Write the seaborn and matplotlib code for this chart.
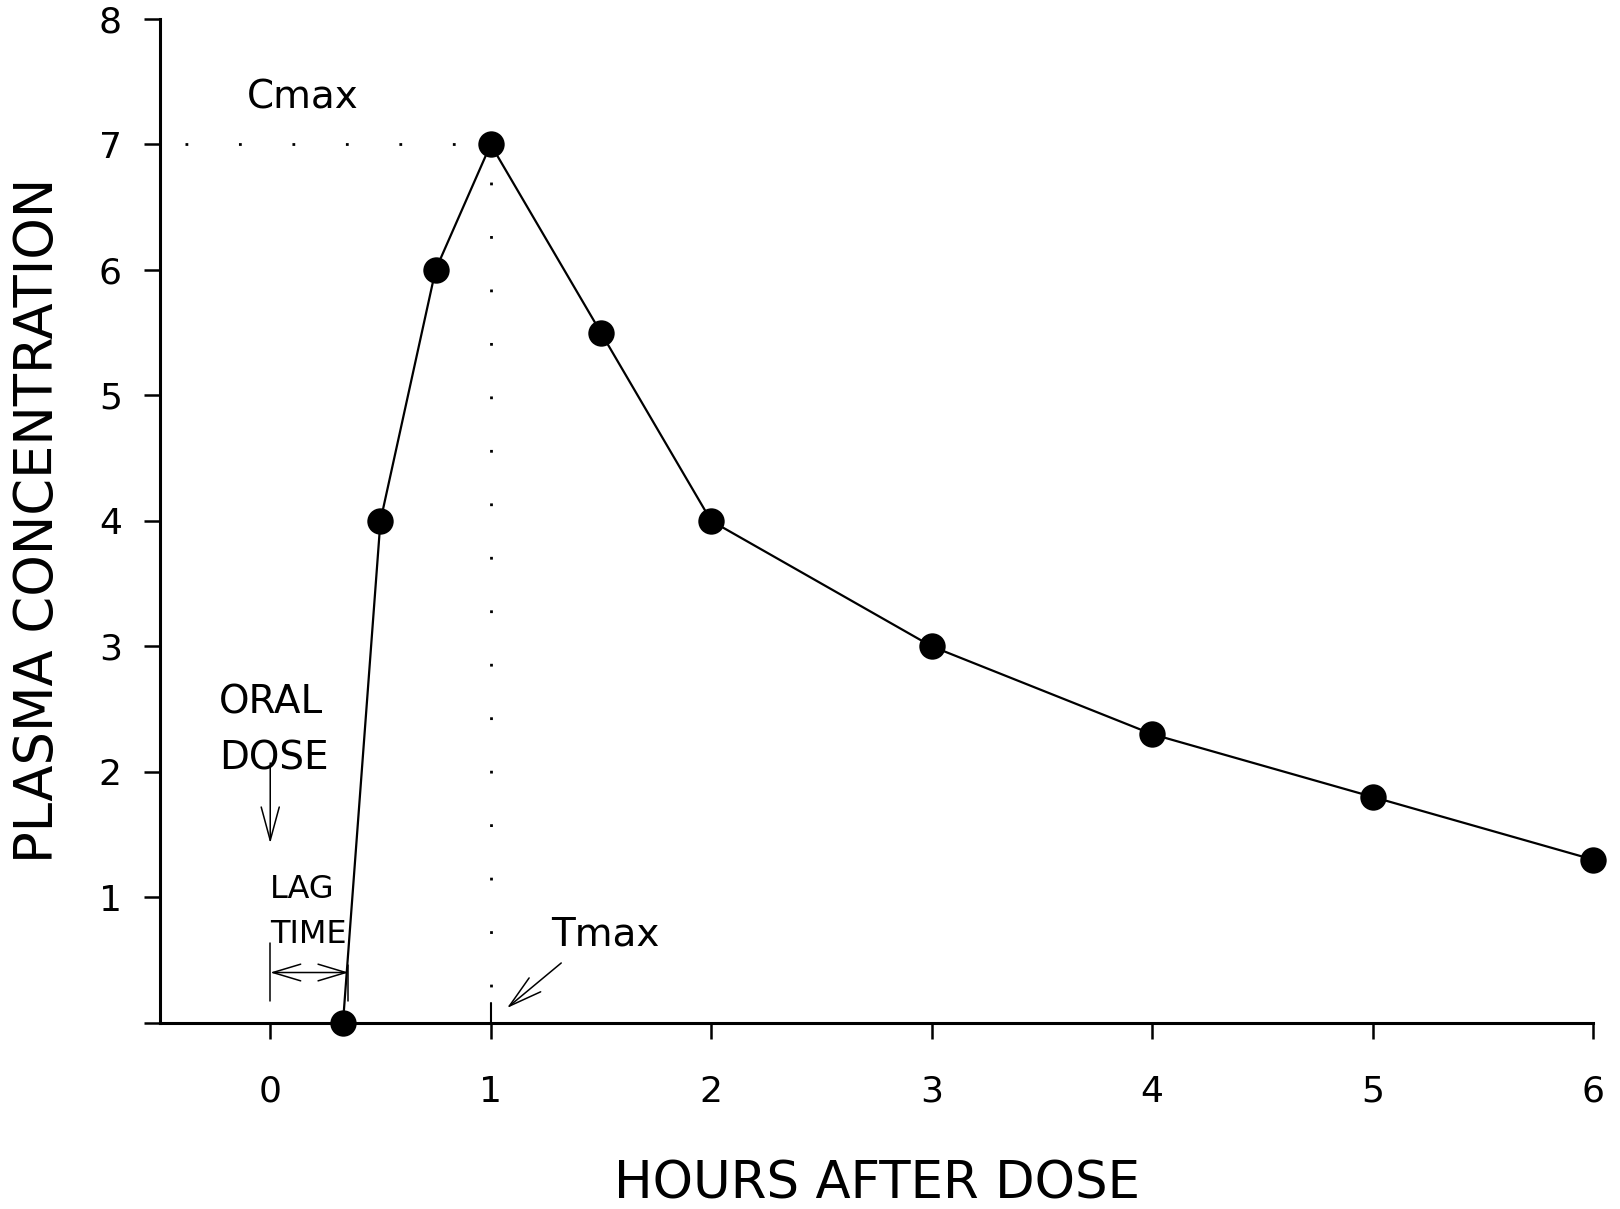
import matplotlib
matplotlib.use("Agg")
import matplotlib.pyplot as plt
import seaborn as sns

# ---- data ----
hours = [0.33, 0.5, 0.75, 1.0, 1.5, 2.0, 3.0, 4.0, 5.0, 6.0]
conc = [0.0, 4.0, 6.0, 7.0, 5.5, 4.0, 3.0, 2.3, 1.8, 1.3]
x_ticks = [0, 1, 2, 3, 4, 5, 6]
x_tick_labels = ["0", "1", "2", "3", "4", "5", "6"]
y_ticks = [0, 1, 2, 3, 4, 5, 6, 7, 8]
y_tick_labels = ["", "1", "2", "3", "4", "5", "6", "7", "8"]
cmax = 7.0
tmax = 1.0
lag_time = 0.355

sns.set_style("ticks")
plt.rcParams["font.family"] = ["DejaVu Sans"]
plt.rcParams["text.color"] = "black"
plt.rcParams["axes.labelcolor"] = "black"
plt.rcParams["xtick.color"] = "black"
plt.rcParams["ytick.color"] = "black"

W, H = 1620, 1209
fig = plt.figure(figsize=(W / 100, H / 100), dpi=100)
left_px, right_px, bottom_px, top_px = 160, 1593, 1022.7, 19
ax = fig.add_axes([left_px / W, 1 - bottom_px / H, (right_px - left_px) / W, (bottom_px - top_px) / H])

sns.lineplot(x=hours, y=conc, ax=ax, color="black", lw=1.6, marker="o",
             markersize=19, markeredgewidth=0, markerfacecolor="black",
             clip_on=False, zorder=4)

ax.set_xlim(-0.5, 6)
ax.set_ylim(0, 8)
ax.set_xticks(x_ticks)
ax.set_xticklabels(x_tick_labels)
ax.set_yticks(y_ticks)
ax.set_yticklabels(y_tick_labels)
sns.despine(ax=ax)
for s in ["left", "bottom"]:
    ax.spines[s].set_linewidth(2.2)
    ax.spines[s].set_color("black")
ax.tick_params(axis="both", direction="out", length=11.5, width=1.8, labelsize=26, color="black", labelcolor="black")
ax.tick_params(axis="x", pad=26)
ax.tick_params(axis="y", pad=16)

# Cmax / Tmax guide lines
ax.plot([-0.5, tmax], [cmax, cmax], color="black", lw=2.0, ls=(10.25, (1, 18.25)), clip_on=False, zorder=2)
ax.plot([tmax, tmax], [cmax, 0], color="black", lw=2.0, ls=(5.55, (1, 18.25)), zorder=2)
ax.plot([tmax, tmax], [0, 0.16], color="black", lw=1.5, zorder=2)

# labels
ax.set_xlabel("HOURS AFTER DOSE", fontsize=37)
ax.set_ylabel("PLASMA CONCENTRATION", fontsize=38)
ax.xaxis.set_label_coords(0.5, -0.136)
ax.yaxis.set_label_coords(-0.067, 0.5)

# annotations
ax.text(-0.106, 7.29, "Cmax", fontsize=28, va="baseline", ha="left")
ax.text(1.274, 0.619, "Tmax", fontsize=28, va="baseline", ha="left")
ax.text(-0.233, 2.468, "ORAL", fontsize=28, va="baseline", ha="left")
ax.text(-0.233, 2.022, "DOSE", fontsize=28, va="baseline", ha="left")
ax.text(0.0, 0.994, "LAG", fontsize=23, va="baseline", ha="left")
ax.text(0.0, 0.636, "TIME", fontsize=23, va="baseline", ha="left")

arrow_kw = dict(color="black", lw=1.1, mutation_scale=1, shrinkA=0, shrinkB=0)
ax.annotate("", xy=(0, 1.43), xytext=(0, 2.07),
            arrowprops=dict(arrowstyle="->,head_length=24,head_width=6.5", **arrow_kw))
ax.annotate("", xy=(1.074, 0.117), xytext=(1.32, 0.476),
            arrowprops=dict(arrowstyle="->,head_length=24,head_width=6.5", **arrow_kw))
ax.annotate("", xy=(lag_time, 0.40), xytext=(0, 0.40),
            arrowprops=dict(arrowstyle="<->,head_length=20,head_width=6", **arrow_kw))
ax.plot([0, 0], [0.173, 0.635], color="black", lw=1.1)
ax.plot([lag_time, lag_time], [0.173, 0.46], color="black", lw=1.1)

fig.savefig("out.png", dpi=100)
